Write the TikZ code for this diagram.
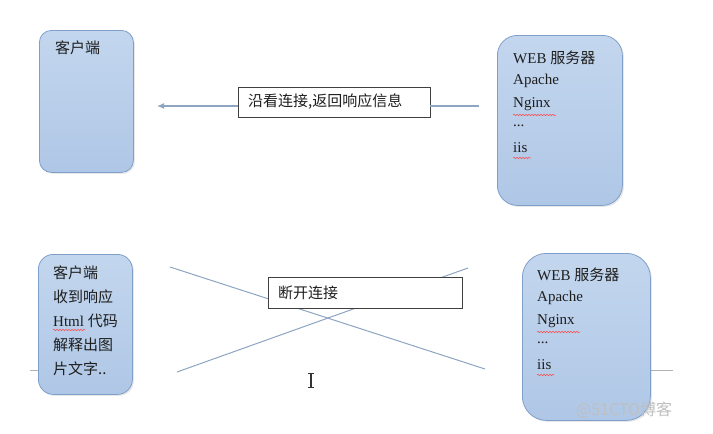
\documentclass[tikz,border=0pt]{standalone}
\usepackage{fontspec}
\setmainfont{Liberation Serif}
\newfontfamily\cjk{Noto Sans CJK SC}
\usetikzlibrary{arrows.meta,decorations.pathmorphing,shadows,calc}
\definecolor{boxtop}{HTML}{C3D6EE}
\definecolor{boxbot}{HTML}{AFC7E6}
\definecolor{boxedge}{HTML}{7F9FCB}
\definecolor{conn}{HTML}{8EA5C2}
\definecolor{txt}{HTML}{1E1E1E}
\tikzset{
  blue box/.style={draw=boxedge, line width=0.8pt, top color=boxtop, bottom color=boxbot,
    anchor=north west, inner sep=0pt,
    drop shadow={shadow xshift=1.5pt, shadow yshift=-1.5pt, opacity=0.18}},
  label box/.style={draw=black!75, fill=white, line width=0.9pt, inner sep=0pt},
  txtnode/.style={anchor=west, inner sep=0pt, text=txt, font=\fontsize{15}{17}\selectfont},
  conn line/.style={draw=conn, line width=1.1pt},
  squiggle/.style={draw=red!70, line width=0.5pt, decorate,
    decoration={snake, amplitude=0.8pt, segment length=3pt}},
  faint/.style={draw=black!30, line width=0.6pt}
}
\begin{document}
\begin{tikzpicture}[x=1pt,y=-1pt]
\useasboundingbox (0,0) rectangle (713,434);
\fill[white] (0,0) rectangle (713,434);

% ---------- top row ----------
\node[blue box, rounded corners=12pt, minimum width=94pt, minimum height=142pt] (c1) at (39,30) {};
\node[txtnode] (c1t) at (55,48) {\cjk 客户端};

\node[blue box, rounded corners=20pt, minimum width=125pt, minimum height=170pt] (s1) at (497,35) {};
\node[txtnode] (s1a) at (513,58) {WEB {\cjk 服务器}};
\node[txtnode] (s1b) at (513,81) {Apache};
\node[txtnode] (s1c) at (513,104) {Nginx};
\node[txtnode] (s1d) at (513,126) {...};
\node[txtnode] (s1e) at (513,148) {iis};
\draw[squiggle] (513,115) -- (556,115);
\draw[squiggle] (513,158) -- (531,158);

\coordinate (a1) at (157,106);
\coordinate (a2) at (479,106);
\node[label box, minimum width=192pt, minimum height=30pt] (l1) at (334,102) {};
\node[txtnode] (l1t) at (248,102) {\cjk 沿看连接,返回响应信息};
\draw[conn line] (a2) -- (l1.east |- a2);
\draw[conn line, -{Latex[length=7pt,width=6pt]}] (l1.west |- a1) -- (a1);

% ---------- bottom row ----------
\draw[faint] (30,370) -- (38,370);
\draw[faint] (650,370) -- (673,370);

\node[blue box, rounded corners=15pt, minimum width=94pt, minimum height=140pt] (c2) at (38,254) {};
\node[txtnode] (c2a) at (53,273) {\cjk 客户端};
\node[txtnode] (c2b) at (53,297) {\cjk 收到响应};
\node[txtnode] (c2c) at (53,321) {Html {\cjk 代码}};
\node[txtnode] (c2d) at (53,345) {\cjk 解释出图};
\node[txtnode] (c2e) at (53,369) {\cjk 片文字..};
\draw[squiggle] (53,330) -- (85,330);

\node[blue box, rounded corners=24pt, minimum width=128pt, minimum height=167pt] (s2) at (522,253) {};
\node[txtnode] (s2a) at (537,275) {WEB {\cjk 服务器}};
\node[txtnode] (s2b) at (537,298) {Apache};
\node[txtnode] (s2c) at (537,321) {Nginx};
\node[txtnode] (s2d) at (537,343) {...};
\node[txtnode] (s2e) at (537,365) {iis};
\draw[squiggle] (537,332) -- (580,332);
\draw[squiggle] (537,375) -- (554,375);

\coordinate (x1) at (170,267);
\coordinate (x2) at (485,369);
\coordinate (x3) at (177,372);
\coordinate (x4) at (468,268);
\draw[conn line, line width=1pt] (x1) -- (x2);
\draw[conn line, line width=1pt] (x3) -- (x4);
\node[label box, minimum width=194pt, minimum height=31pt] (l2) at (365,292.5) {};
\node[txtnode] (l2t) at (278,293) {\cjk 断开连接};

% text cursor
\coordinate (ib1) at (311,373);
\coordinate (ib2) at (311,387);
\draw[black!80, line width=1.2pt] (ib1) -- (ib2);
\draw[black!80, line width=0.9pt] ($(ib1)+(-3,0)$) -- ($(ib1)+(3,0)$);
\draw[black!80, line width=0.9pt] ($(ib2)+(-3,0)$) -- ($(ib2)+(3,0)$);

% watermark
\node[anchor=west, inner sep=0pt, text=black!25, font=\cjk\fontsize{16}{18}\selectfont] (wm) at (576,410) {@51CTO博客};
\end{tikzpicture}
\end{document}
